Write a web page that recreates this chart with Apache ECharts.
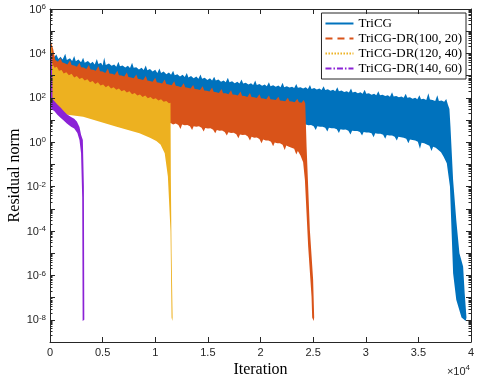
<!DOCTYPE html>
<html>
<head>
<meta charset="utf-8">
<script src="https://cdn.jsdelivr.net/npm/echarts@6/dist/echarts.min.js"></script>
<style>
html, body { margin: 0; padding: 0; background: #fff; }
#chart { width: 478px; height: 378px; }
</style>
</head>
<body>
<div id="chart"></div>
<script>
// legend names
const names = ['TriCG', 'TriCG-DR(100, 20)', 'TriCG-DR(120, 40)', 'TriCG-DR(140, 60)'];

// band edges: [iteration, log10(residual)]
// "upper" runs left to right and down the right side of the final drop,
// "lower" runs left to right and down the left side of the drop
const triUpper = [[0,3.9],[150,4.15],[350,3.8],[600,3.95],[800,3.75],[1000,3.85],[1200,3.72],[1450,3.98],[1600,3.7],[1900,3.78],[2100,3.66],[2300,3.88],[2450,3.65],[2700,3.72],[2950,3.6],[3150,3.8],[3300,3.58],[3600,3.66],[3850,3.55],[4050,3.62],[4250,3.5],[4450,3.75],[4600,3.52],[4850,3.58],[5000,3.45],[5150,3.82],[5300,3.48],[5600,3.55],[5850,3.44],[6100,3.5],[6300,3.4],[6500,3.62],[6650,3.42],[6900,3.46],[7150,3.36],[7400,3.44],[7600,3.34],[7800,3.58],[7950,3.35],[8200,3.38],[8450,3.28],[8700,3.35],[8900,3.25],[9100,3.45],[9250,3.24],[9500,3.3],[9750,3.18],[10000,3.26],[10200,3.12],[10400,3.32],[10550,3.12],[10800,3.18],[11050,3.06],[11300,3.14],[11500,3.04],[11700,3.22],[11850,3.02],[12100,3.06],[12350,2.96],[12600,3.04],[12800,2.94],[13000,3.12],[13150,2.92],[13400,2.98],[13650,2.88],[13900,2.96],[14100,2.86],[14300,3.05],[14450,2.86],[14700,2.9],[14950,2.8],[15200,2.88],[15400,2.78],[15600,2.95],[15750,2.78],[16000,2.82],[16250,2.72],[16500,2.78],[16700,2.7],[16900,2.9],[17050,2.7],[17300,2.74],[17550,2.65],[17800,2.72],[18000,2.64],[18200,2.82],[18350,2.64],[18600,2.68],[18850,2.6],[19100,2.66],[19300,2.58],[19500,2.78],[19650,2.58],[19900,2.62],[20150,2.54],[20400,2.6],[20600,2.52],[20800,2.7],[20950,2.52],[21200,2.56],[21450,2.5],[21700,2.55],[21900,2.48],[22100,2.68],[22250,2.48],[22500,2.52],[22750,2.46],[23000,2.5],[23200,2.44],[23400,2.62],[23550,2.45],[23800,2.48],[24050,2.42],[24300,2.47],[24500,2.4],[24700,2.58],[24850,2.4],[25100,2.44],[25350,2.37],[25600,2.42],[25800,2.35],[26000,2.52],[26150,2.35],[26400,2.38],[26650,2.32],[26900,2.36],[27100,2.3],[27300,2.48],[27450,2.3],[27700,2.33],[27950,2.26],[28200,2.3],[28400,2.24],[28600,2.42],[28750,2.24],[29000,2.27],[29250,2.2],[29500,2.25],[29700,2.18],[29900,2.36],[30050,2.18],[30300,2.2],[30550,2.14],[30800,2.18],[31000,2.12],[31200,2.3],[31350,2.12],[31600,2.14],[31850,2.08],[32100,2.12],[32300,2.05],[32500,2.25],[32650,2.06],[32900,2.08],[33150,2.02],[33400,2.06],[33600,2.0],[33800,2.18],[33950,2.0],[34200,2.02],[34450,1.96],[34700,2.0],[34900,1.94],[35100,2.12],[35250,1.94],[35500,1.96],[35750,1.9],[35950,2.2],[36100,1.92],[36350,1.9],[36600,1.86],[36800,2.12],[36950,1.86],[37200,1.88],[37450,1.82],[37650,1.95],[37800,1.7],[37950,1.5],[38050,0.7],[38300,-1.7],[38600,-3.5],[38900,-5.0],[39250,-5.6],[39400,-6.8],[39570,-7.9],[39500,-8.05]];
const triLower = [[0,3.4],[1000,2.8],[5000,2.3],[10000,1.8],[15000,1.4],[20000,1.1],[24000,0.9],[24300,0.8],[24550,0.76],[24800,0.78],[25050,0.72],[25250,0.55],[25400,0.72],[25650,0.7],[25900,0.7],[26150,0.65],[26350,0.48],[26500,0.65],[26750,0.63],[27000,0.63],[27250,0.58],[27450,0.42],[27600,0.58],[27850,0.56],[28100,0.57],[28350,0.52],[28550,0.35],[28700,0.52],[28950,0.5],[29200,0.5],[29450,0.46],[29650,0.3],[29800,0.46],[30050,0.44],[30300,0.44],[30550,0.4],[30750,0.22],[30900,0.4],[31150,0.38],[31400,0.38],[31650,0.33],[31850,0.15],[32000,0.32],[32250,0.3],[32500,0.3],[32750,0.25],[32950,0.08],[33100,0.24],[33350,0.22],[33600,0.2],[33850,0.15],[34050,-0.05],[34200,0.12],[34450,0.1],[34700,0.08],[34950,0.02],[35150,-0.3],[35300,-0.02],[35550,-0.05],[35800,-0.1],[36050,-0.16],[36250,-0.4],[36400,-0.2],[36650,-0.25],[36900,-0.35],[37150,-0.45],[37400,-0.65],[37700,-0.95],[38000,-2.0],[38150,-3.95],[38300,-5.9],[38600,-7.1],[39100,-7.9],[39500,-8.05]];

const dr1Upper = [[0,4.0],[100,4.5],[300,4.2],[500,3.7],[750,3.62],[1000,3.78],[1150,3.6],[1400,3.56],[1650,3.5],[1900,3.68],[2050,3.48],[2300,3.45],[2550,3.4],[2800,3.58],[2950,3.38],[3200,3.36],[3450,3.3],[3700,3.48],[3850,3.28],[4100,3.26],[4350,3.22],[4600,3.42],[4750,3.2],[5000,3.18],[5250,3.12],[5500,3.32],[5650,3.1],[5900,3.08],[6150,3.04],[6400,3.22],[6550,3.02],[6800,3.0],[7050,2.96],[7300,3.14],[7450,2.94],[7700,2.92],[7950,2.88],[8200,3.05],[8350,2.86],[8600,2.84],[8850,2.8],[9100,2.98],[9250,2.78],[9500,2.76],[9750,2.72],[10000,2.9],[10150,2.7],[10400,2.68],[10650,2.64],[10900,2.82],[11050,2.62],[11300,2.6],[11550,2.56],[11800,2.74],[11950,2.54],[12200,2.52],[12450,2.48],[12700,2.66],[12850,2.47],[13100,2.45],[13350,2.42],[13600,2.58],[13750,2.4],[14000,2.38],[14250,2.35],[14500,2.52],[14650,2.33],[14900,2.32],[15150,2.28],[15400,2.46],[15550,2.27],[15800,2.25],[16050,2.22],[16300,2.4],[16450,2.2],[16700,2.2],[16950,2.16],[17200,2.34],[17350,2.15],[17600,2.14],[17850,2.1],[18100,2.28],[18250,2.09],[18500,2.08],[18750,2.04],[19000,2.22],[19150,2.04],[19400,2.02],[19650,1.99],[19900,2.16],[20050,1.98],[20300,1.97],[20550,1.94],[20800,2.1],[20950,1.93],[21200,1.92],[21450,1.9],[21700,2.05],[21850,1.88],[22100,1.87],[22350,1.85],[22600,2.0],[22750,1.84],[23000,1.83],[23250,1.8],[23500,1.96],[23650,1.8],[23900,1.78],[24100,1.9],[24250,1.76],[24380,-0.2],[24690,-3.95],[25000,-6.2],[25100,-7.9],[25050,-8.05]];
const dr1Lower = [[0,3.5],[1000,2.6],[5000,1.9],[9000,1.3],[11500,0.85],[11700,0.8],[11950,0.84],[12200,0.78],[12400,0.6],[12550,0.8],[12800,0.76],[13050,0.78],[13300,0.72],[13500,0.55],[13650,0.72],[13900,0.7],[14150,0.72],[14400,0.65],[14600,0.48],[14750,0.64],[15000,0.62],[15250,0.63],[15500,0.56],[15700,0.4],[15850,0.55],[16100,0.52],[16350,0.53],[16600,0.46],[16800,0.3],[16950,0.45],[17200,0.42],[17450,0.43],[17700,0.36],[17900,0.18],[18050,0.35],[18300,0.32],[18550,0.33],[18800,0.26],[19000,0.08],[19150,0.24],[19400,0.2],[19650,0.21],[19900,0.14],[20100,-0.05],[20250,0.12],[20500,0.08],[20750,0.08],[21000,0.02],[21200,-0.18],[21350,-0.01],[21600,-0.05],[21850,-0.05],[22100,-0.12],[22300,-0.35],[22450,-0.15],[22700,-0.2],[22950,-0.25],[23200,-0.3],[23400,-0.55],[23550,-0.4],[23800,-0.6],[24050,-0.9],[24220,-1.7],[24530,-4.7],[24850,-6.96],[24910,-7.9],[25050,-8.05]];

const dr2Upper = [[0,3.8],[100,4.4],[250,3.5],[450,3.35],[650,3.4],[850,3.22],[1100,3.25],[1300,3.1],[1550,3.15],[1800,3.02],[2050,3.08],[2300,2.92],[2550,2.98],[2800,2.85],[3050,2.9],[3300,2.78],[3550,2.84],[3800,2.7],[4050,2.76],[4300,2.62],[4550,2.7],[4800,2.55],[5050,2.6],[5300,2.48],[5550,2.55],[5800,2.42],[6050,2.48],[6300,2.36],[6550,2.42],[6800,2.3],[7050,2.35],[7300,2.24],[7550,2.3],[7800,2.16],[8050,2.22],[8300,2.1],[8550,2.15],[8800,2.04],[9050,2.1],[9300,1.98],[9550,2.04],[9800,1.93],[10050,1.98],[10300,1.88],[10550,1.93],[10800,1.82],[11050,1.86],[11300,1.76],[11450,1.78],[11480,-1.5],[11550,-5.0],[11650,-7.9],[11620,-8.05]];
const dr2Lower = [[0,3.4],[100,2.2],[300,1.6],[640,1.35],[1500,1.25],[3150,1.15],[4500,0.95],[6330,0.7],[8500,0.4],[9500,0.2],[10100,0.05],[10500,-0.1],[10900,-0.5],[11200,-1.55],[11450,-4.0],[11550,-7.9],[11620,-8.05]];

const dr3Upper = [[0,4.1],[170,3.95],[240,1.95],[400,1.86],[700,1.7],[1000,1.56],[1300,1.41],[1600,1.26],[2000,1.13],[2300,1.06],[2550,0.93],[2800,0.68],[2950,0.33],[3120,0.1],[3220,-2.0],[3260,-8.0]];
const dr3Lower = [[0,2.0],[120,1.5],[400,1.4],[700,1.24],[1000,1.1],[1300,0.98],[1600,0.84],[2000,0.7],[2300,0.62],[2600,0.42],[2800,0.1],[2950,-0.5],[3060,-2.5],[3100,-8.05]];

const colors = ['#0072bd', '#d95319', '#edb120', '#8b22d6'];
const dashes = ['solid', [7, 5], [1.5, 1.5], [6, 2, 1.5, 2]];
const bands = [[triUpper, triLower], [dr1Upper, dr1Lower], [dr2Upper, dr2Lower], [dr3Upper, dr3Lower]];

const outline = (b) => b[0].concat(b[1].slice().reverse()).map(p => [p[0], Math.pow(10, p[1])]);

const series = [];
bands.forEach((b, i) => {
    const pts = outline(b);
    series.push({
        name: names[i] + ' band',
        type: 'custom',
        data: [[0, 1]],
        silent: true,
        renderItem: (params, api) => ({
            type: 'polygon',
            shape: { points: pts.map(p => api.coord(p)) },
            style: { fill: colors[i] }
        })
    });
    // line series only carries the legend entry (line style)
    series.push({
        name: names[i],
        type: 'line',
        symbol: 'none',
        color: colors[i],
        lineStyle: { width: 1, type: dashes[i], color: colors[i] },
        data: []
    });
});

const axisCol = '#262626';
const tickFont = { fontFamily: 'Liberation Sans', fontSize: 11, color: axisCol };
const line = { show: true, onZero: false, lineStyle: { color: axisCol, width: 1 } };
const tick = { show: true, inside: true, length: 5, lineStyle: { color: axisCol, width: 1 } };
const minor = { show: true, splitNumber: 9, length: 2.5, lineStyle: { color: axisCol, width: 1 } };

const yLabel = (v) => {
    const e = Math.round(Math.log10(v));
    if (e % 2 !== 0) return '';
    return '{b|10}{s|' + e + '}';
};

const chart = echarts.init(document.getElementById('chart'));
chart.setOption({
    animation: false,
    grid: { left: 50, right: 7, top: 9, bottom: 36, containLabel: false, outerBoundsMode: 'none' },
    legend: {
        data: names,
        orient: 'vertical',
        right: 12,
        top: 13,
        padding: [4, 4, 4, 3],
        itemGap: 2,
        itemWidth: 28,
        itemHeight: 14,
        backgroundColor: '#fff',
        borderColor: axisCol,
        borderWidth: 1,
        borderRadius: 0,
        itemStyle: { opacity: 0 },
        lineStyle: { width: 2 },
        textStyle: { fontFamily: 'Liberation Serif', fontSize: 13, color: '#000' }
    },
    xAxis: [{
        type: 'value',
        z: 10,
        min: 0,
        max: 40000,
        interval: 5000,
        name: 'Iteration',
        nameLocation: 'middle',
        nameGap: 20,
        nameMoveOverlap: false,
        nameTextStyle: { fontFamily: 'Liberation Serif', fontSize: 16, color: '#000' },
        axisLine: line,
        axisTick: tick,
        axisLabel: { ...tickFont, margin: 5, formatter: v => String(v / 10000) },
        splitLine: { show: false }
    }, {
        type: 'value',
        z: 10,
        position: 'top',
        min: 0,
        max: 40000,
        interval: 5000,
        axisLine: line,
        axisTick: tick,
        axisLabel: { show: false },
        splitLine: { show: false }
    }],
    yAxis: [{
        type: 'log',
        z: 10,
        min: 1e-9,
        max: 1e6,
        interval: 1,
        name: 'Residual norm',
        nameLocation: 'middle',
        nameGap: 27,
        nameMoveOverlap: false,
        nameTextStyle: { fontFamily: 'Liberation Serif', fontSize: 16, color: '#000' },
        axisLine: line,
        axisTick: tick,
        minorTick: minor,
        axisLabel: {
            margin: 4,
            formatter: yLabel,
            rich: {
                b: { ...tickFont, lineHeight: 12, verticalAlign: 'bottom' },
                s: { ...tickFont, fontSize: 8, lineHeight: 9, padding: [0, 0, 8, 0], verticalAlign: 'top' }
            }
        },
        splitLine: { show: false }
    }, {
        type: 'log',
        z: 10,
        position: 'right',
        min: 1e-9,
        max: 1e6,
        interval: 1,
        axisLine: line,
        axisTick: tick,
        minorTick: minor,
        axisLabel: { show: false },
        splitLine: { show: false }
    }],
    graphic: [{
        type: 'text',
        right: 8,
        bottom: 1,
        style: {
            text: '×10{s|4}',
            fontFamily: 'Liberation Sans',
            fontSize: 11,
            fill: axisCol,
            rich: { s: { fontFamily: 'Liberation Sans', fontSize: 8, fill: axisCol, padding: [0, 0, 8, 0], verticalAlign: 'top' } }
        }
    }],
    series: series
});
</script>
</body>
</html>
